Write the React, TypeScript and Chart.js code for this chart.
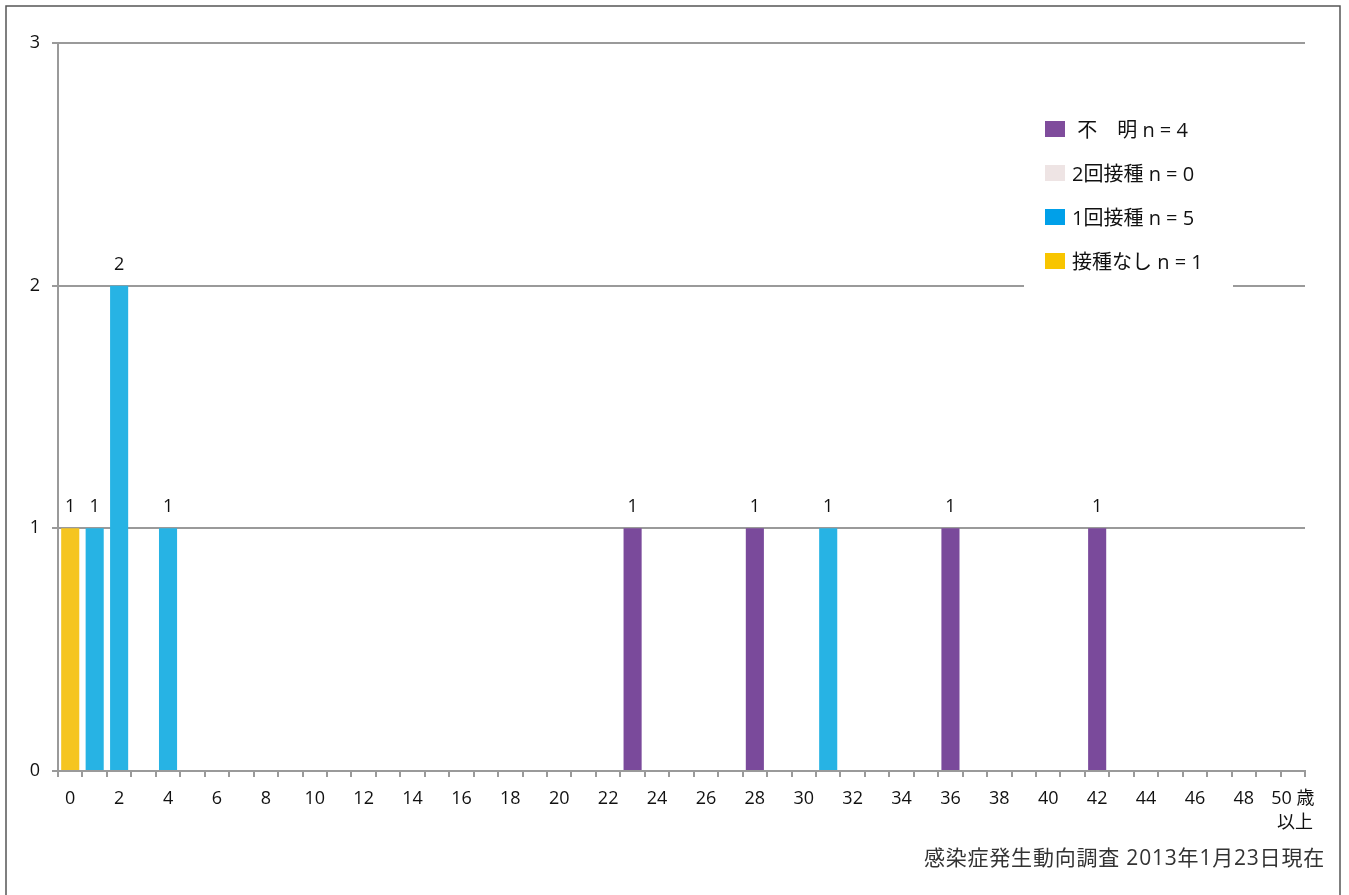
import React, { useEffect, useRef } from 'react';
import { Chart, registerables } from 'chart.js';

Chart.register(...registerables);

const categories: (string | string[])[] = [
  '0', '1', '2', '3', '4', '5', '6', '7', '8', '9',
  '10', '11', '12', '13', '14', '15', '16', '17', '18', '19',
  '20', '21', '22', '23', '24', '25', '26', '27', '28', '29',
  '30', '31', '32', '33', '34', '35', '36', '37', '38', '39',
  '40', '41', '42', '43', '44', '45', '46', '47', '48', '49',
  ['50 歳', ' 以上'],
];

// index of categories that carry a visible tick label
const labeledTicks = [0, 2, 4, 6, 8, 10, 12, 14, 16, 18, 20, 22, 24, 26, 28, 30, 32, 34, 36, 38, 40, 42, 44, 46, 48, 50];

const noVaccine = [
  1, 0, 0, 0, 0, 0, 0, 0, 0, 0,
  0, 0, 0, 0, 0, 0, 0, 0, 0, 0,
  0, 0, 0, 0, 0, 0, 0, 0, 0, 0,
  0, 0, 0, 0, 0, 0, 0, 0, 0, 0,
  0, 0, 0, 0, 0, 0, 0, 0, 0, 0,
  0,
];
const oneDose = [
  0, 1, 2, 0, 1, 0, 0, 0, 0, 0,
  0, 0, 0, 0, 0, 0, 0, 0, 0, 0,
  0, 0, 0, 0, 0, 0, 0, 0, 0, 0,
  0, 1, 0, 0, 0, 0, 0, 0, 0, 0,
  0, 0, 0, 0, 0, 0, 0, 0, 0, 0,
  0,
];
const twoDose = [
  0, 0, 0, 0, 0, 0, 0, 0, 0, 0,
  0, 0, 0, 0, 0, 0, 0, 0, 0, 0,
  0, 0, 0, 0, 0, 0, 0, 0, 0, 0,
  0, 0, 0, 0, 0, 0, 0, 0, 0, 0,
  0, 0, 0, 0, 0, 0, 0, 0, 0, 0,
  0,
];
const unknown = [
  0, 0, 0, 0, 0, 0, 0, 0, 0, 0,
  0, 0, 0, 0, 0, 0, 0, 0, 0, 0,
  0, 0, 0, 1, 0, 0, 0, 0, 1, 0,
  0, 0, 0, 0, 0, 0, 1, 0, 0, 0,
  0, 0, 1, 0, 0, 0, 0, 0, 0, 0,
  0,
];

const seriesLabels = ['接種なし', '1回接種', '2回接種', '不明'];
const legendTexts = [
  ' 不　明 n = 4',
  '2回接種 n = 0',
  '1回接種 n = 5',
  '接種なし n = 1',
];
const barColors = ['#F5C520', '#27B3E4', '#EEE4E4', '#7A4A9B'];
const legendColors = ['#7F4C9C', '#EEE4E4', '#00A0E9', '#F8C500'];
const yTicks = [0, 1, 2, 3];
const sourceText = '感染症発生動向調査 2013年1月23日現在';

const FONT = '"Open Sans", "Noto Sans CJK JP", sans-serif';
const GRID = '#9a9a9a';
const TEXT = '#111111';

const decorPlugin = {
  id: 'decor',
  afterDatasetsDraw(chart: any) {
    const { ctx, scales } = chart;
    const x = scales.x;
    const y = scales.y;
    const n = categories.length;
    ctx.save();
    ctx.font = `18px ${FONT}`;
    ctx.fillStyle = TEXT;
    ctx.textAlign = 'center';
    ctx.textBaseline = 'middle';
    for (let i = 0; i < n; i++) {
      const total = chart.data.datasets.reduce((s: number, d: any) => s + (d.data[i] || 0), 0);
      if (total > 0) {
        const px = x.getPixelForValue(i);
        const py = y.getPixelForValue(total);
        ctx.fillText(String(total), px, py - 21);
      }
    }
    ctx.restore();
  },
  afterDraw(chart: any) {
    const { ctx } = chart;
    ctx.save();
    // frame
    ctx.strokeStyle = '#555';
    ctx.lineWidth = 1.5;
    ctx.beginPath();
    ctx.moveTo(6, 900);
    ctx.lineTo(6, 6);
    ctx.lineTo(1340, 6);
    ctx.lineTo(1340, 900);
    ctx.stroke();

    // legend
    ctx.fillStyle = '#ffffff';
    ctx.fillRect(1024, 100, 209, 193);
    ctx.font = `20px ${FONT}`;
    ctx.textAlign = 'left';
    ctx.textBaseline = 'middle';
    for (let i = 0; i < legendTexts.length; i++) {
      const cy = 129 + i * 44;
      ctx.fillStyle = legendColors[i];
      ctx.fillRect(1045, cy - 8, 20, 16);
      ctx.fillStyle = TEXT;
      ctx.fillText(legendTexts[i], 1072, cy + 2);
    }

    // source
    ctx.font = `21px ${FONT}`;
    ctx.textAlign = 'right';
    ctx.fillStyle = '#333';
    try { (ctx as any).letterSpacing = '0.8px'; } catch (e) { /* ignore */ }
    ctx.fillText(sourceText, 1325, 859);
    ctx.restore();
  },
};

export default function App() {
  const ref = useRef<HTMLCanvasElement>(null);

  useEffect(() => {
    if (!ref.current) return;
    const chart = new Chart(ref.current, {
      type: 'bar',
      data: {
        labels: categories,
        datasets: [noVaccine, oneDose, twoDose, unknown].map((d, i) => ({
          label: seriesLabels[i],
          data: d,
          backgroundColor: barColors[i],
          borderWidth: 0,
          barPercentage: 0.74,
          categoryPercentage: 1.0,
        })),
      },
      options: {
        responsive: false,
        animation: false,
        devicePixelRatio: 1,
        layout: { padding: { top: 43, right: 44, left: 0, bottom: 0 } },
        plugins: {
          legend: { display: false },
          tooltip: { enabled: false },
          title: { display: false },
        },
        scales: {
          x: {
            stacked: true,
            offset: true,
            afterFit: (s: any) => { s.height = 124; },
            grid: {
              offset: true,
              drawOnChartArea: false,
              drawTicks: true,
              tickLength: 6,
              color: GRID,
              lineWidth: 2,
            },
            border: { display: true, color: GRID, width: 2 },
            ticks: {
              autoSkip: false,
              maxRotation: 0,
              minRotation: 0,
              padding: 10,
              color: TEXT,
              font: { family: FONT, size: 18, lineHeight: 1.33 },
              callback: (_v: any, i: number) => (labeledTicks.includes(i) ? categories[i] : ''),
            },
          },
          y: {
            stacked: true,
            min: 0,
            max: 3,
            afterFit: (s: any) => { s.width = 58; },
            afterBuildTicks: (s: any) => { s.ticks = yTicks.map((v) => ({ value: v })); },
            grid: {
              drawTicks: true,
              tickLength: 6,
              color: GRID,
              lineWidth: 2,
            },
            border: { display: true, color: GRID, width: 2 },
            ticks: {
              padding: 12,
              color: TEXT,
              font: { family: FONT, size: 18 },
            },
          },
        },
      },
      plugins: [decorPlugin],
    });
    return () => chart.destroy();
  }, []);

  return (
    <div style={{ position: 'absolute', left: 0, top: 0, width: 1349, height: 895, background: '#fff' }}>
      <canvas ref={ref} width={1349} height={895} style={{ width: 1349, height: 895, display: 'block' }} />
    </div>
  );
}
